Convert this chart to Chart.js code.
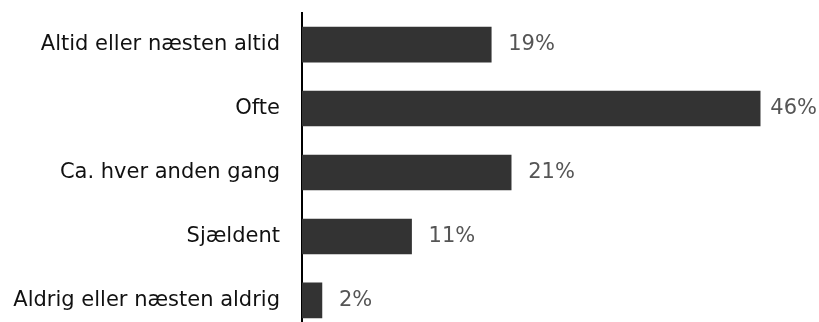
<!DOCTYPE html>
<html>
<head>
<meta charset="utf-8">
<script src="https://cdn.jsdelivr.net/npm/chart.js@4/dist/chart.umd.min.js"></script>
<style>
  html, body { margin: 0; padding: 0; background: #fff; overflow: hidden; }
  #wrap { width: 819px; height: 322px; overflow: hidden; }
</style>
</head>
<body>
<div id="wrap">
  <canvas id="myChart" width="819" height="345"></canvas>
</div>
<script>
var categories = ['Altid eller næsten altid', 'Ofte', 'Ca. hver anden gang', 'Sjældent', 'Aldrig eller næsten aldrig'];
var values = [19, 46, 21, 11, 2];
var valueLabels = ['19%', '46%', '21%', '11%', '2%'];

var FONT = '"DejaVu Sans", Verdana, sans-serif';

// percentage text right of each bar, kept inside the canvas
var barLabels = {
  id: 'barLabels',
  afterDatasetsDraw: function (chart) {
    var ctx = chart.ctx;
    var meta = chart.getDatasetMeta(0);
    ctx.save();
    ctx.font = '21px ' + FONT;
    ctx.fillStyle = '#555555';
    ctx.textBaseline = 'middle';
    ctx.textAlign = 'left';
    for (var i = 0; i < meta.data.length; i++) {
      var bar = meta.data[i];
      var txt = valueLabels[i];
      var w = ctx.measureText(txt).width;
      var x = Math.min(bar.x + 17, chart.width - w - 2);
      ctx.fillText(txt, x, bar.y);
    }
    ctx.restore();
  }
};

var ctx = document.getElementById('myChart');
new Chart(ctx, {
  type: 'bar',
  data: {
    labels: categories,
    datasets: [{
      data: values,
      backgroundColor: '#333333',
      borderWidth: 0,
      barThickness: 35
    }]
  },
  options: {
    indexAxis: 'y',
    responsive: false,
    animation: false,
    layout: { padding: { top: 12, right: 19, bottom: 12, left: 0 } },
    plugins: {
      legend: { display: false },
      tooltip: { enabled: false }
    },
    scales: {
      x: {
        display: false,
        min: 0,
        max: 50
      },
      y: {
        afterFit: function (scale) { scale.width = 302; },
        // tick marks hidden, their length only spaces the labels from the axis
        grid: { display: false, drawTicks: true, tickLength: 22 },
        border: { display: true, color: '#000000', width: 2 },
        ticks: {
          padding: 0,
          color: '#111111',
          font: { family: FONT, size: 21 }
        }
      }
    }
  },
  plugins: [barLabels]
});
</script>
</body>
</html>
